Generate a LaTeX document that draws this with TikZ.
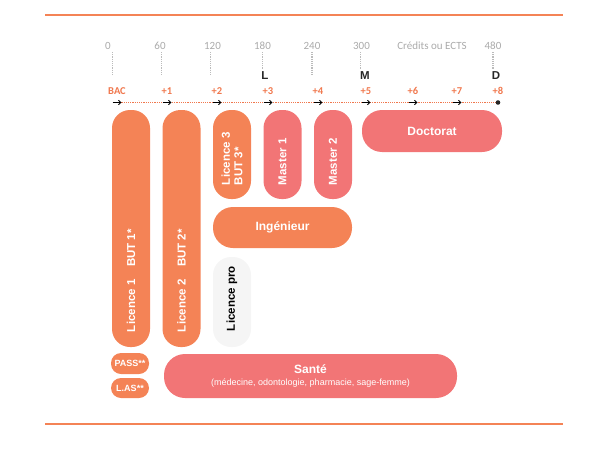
\documentclass[tikz,border=0pt]{standalone}
\usepackage{fontspec}
\setmainfont{Liberation Sans}
\newfontfamily\axisfont{Carlito}
\usetikzlibrary{arrows.meta,calc,positioning}
\definecolor{lmdorange}{RGB}{244,131,86}
\definecolor{lmdpink}{RGB}{242,117,118}
\definecolor{lmdlight}{RGB}{245,245,245}
\definecolor{lmdgray}{RGB}{170,170,170}
\definecolor{lmdyear}{RGB}{240,120,78}

\begin{document}
\begin{tikzpicture}[x=1pt,y=1pt,>={Straight Barb[length=2.5pt,width=4.5pt]},
  pill/.style={rounded corners=18pt,minimum width=38pt,inner sep=0pt},
  pilltext/.style={rotate=90,anchor=west,inner sep=0pt,font=\fontsize{11.5}{12.5}\selectfont\bfseries,text=white},
  wide/.style={font=\fontsize{12}{13}\selectfont\bfseries,text=white},
  credit/.style={font=\axisfont\fontsize{11}{12}\selectfont,text=lmdgray,inner sep=0pt},
  year/.style={font=\axisfont\fontsize{10.5}{11}\selectfont\bfseries,text=lmdyear,inner sep=0pt},
  cycle/.style={font=\fontsize{11.5}{12}\selectfont\bfseries,text=black!85,inner sep=0pt},
  tick/.style={lmdgray!80,densely dotted,line width=1.2pt}]
\useasboundingbox (0,0) rectangle (599,-455);

% frame rules
\draw[lmdorange,line width=2pt] (45,-14.7) -- (563,-14.7);
\draw[lmdorange,line width=2pt] (45,-424) -- (563,-424);

% credits scale
\foreach \x/\tx/\c/\yb in {112.7/108/0/75,161.7/160/60/75,210.7/212.5/120/75,262.7/262.5/180/69,312/312/240/75,360.7/361.5/300/69,493/493/480/69}{
  \node[credit] (c\c) at (\tx,-45.5) {\c};
  \draw[tick] (\x,-52) -- (\x,-\yb);
}
\node[credit] (ects) at (432,-45.5) {Crédits ou ECTS};
\node[cycle] (cl) at (265,-75.5) {L};
\node[cycle] (cm) at (365,-75.5) {M};
\node[cycle] (cd) at (496,-75.5) {D};

% years after the bac
\foreach \x/\lab [count=\i from 0] in {117/BAC,167/+1,217/+2,268/+3,318/+4,366/+5,413/+6,457/+7,498/+8}{
  \coordinate (t\i) at (\x,-102.5);
  \node[year] (y\i) at (\x,-91) {\lab};
}
\draw[lmdyear,densely dotted,line width=1.2pt] (t0) -- (t8);
\foreach \i in {0,...,7}
  \draw[->,black,line width=.8pt] ($(t\i)+(-4.5,0)$) -- ($(t\i)+(4.5,0)$);
\fill[black!85] (t8) circle (2.3pt);

% pills
\node[pill,fill=lmdorange,minimum height=237pt] (l1) at (131,-228.5) {};
\node[pill,fill=lmdorange,minimum height=237pt] (l2) at (181.5,-228.5) {};
\node[pill,fill=lmdorange,minimum height=89pt] (l3) at (232,-154.5) {};
\node[pill,fill=lmdpink,minimum height=89pt] (m1) at (282.5,-154.5) {};
\node[pill,fill=lmdpink,minimum height=89pt] (m2) at (333,-154.5) {};
\node[pill,fill=lmdpink,minimum width=140pt,minimum height=42pt,rounded corners=20pt] (doc) at (432,-131) {};
\node[pill,fill=lmdorange,minimum width=139pt,minimum height=41pt,rounded corners=20pt] (ing) at (282.5,-227.5) {};
\node[pill,fill=lmdlight,minimum height=90pt] (lpro) at (232,-302) {};
\node[pill,fill=lmdorange,minimum height=21pt,rounded corners=10pt] (pass) at (130,-363.5) {};
\node[pill,fill=lmdorange,minimum height=20pt,rounded corners=10pt] (las) at (130,-388) {};
\node[pill,fill=lmdpink,minimum width=293pt,minimum height=44pt,rounded corners=21pt] (sante) at (310.5,-376) {};

% labels
\node[pilltext] (l1t) at ($(l1.south)+(0,15)$) {Licence 1\hspace{1.1em}BUT 1*};
\node[pilltext] (l2t) at ($(l2.south)+(0,15)$) {Licence 2\hspace{1.1em}BUT 2*};
\node[pilltext,align=left] (l3t) at ($(l3.south)+(0,14)$) {Licence 3\\BUT 3*};
\node[pilltext] (m1t) at ($(m1.south)+(0,14)$) {Master 1};
\node[pilltext] (m2t) at ($(m2.south)+(0,14)$) {Master 2};
\node[pilltext,text=black] (lprot) at ($(lpro.south)+(0,16)$) {Licence pro};
\node[wide] at (doc) {Doctorat};
\node[wide] at (ing) {Ingénieur};
\node[font=\fontsize{9}{10}\selectfont\bfseries,text=white,inner sep=0pt] at (pass) {PASS**};
\node[font=\fontsize{9}{10}\selectfont\bfseries,text=white,inner sep=0pt] at (las) {L.AS**};
\node[wide,align=center] at (sante) {Santé\\[-1pt]{\fontsize{9}{10}\selectfont\mdseries (médecine, odontologie, pharmacie, sage-femme)}};
\end{tikzpicture}
\end{document}
